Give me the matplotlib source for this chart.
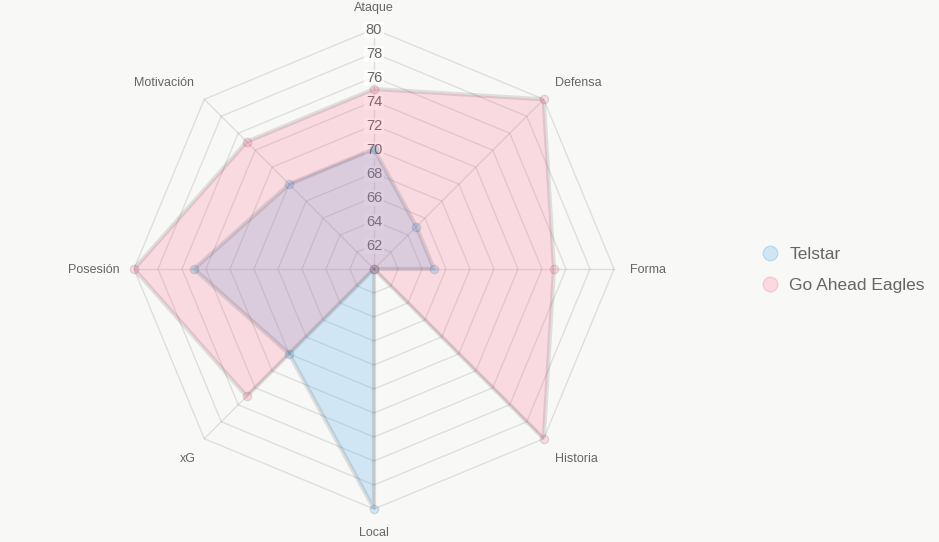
import numpy as np
import matplotlib
matplotlib.use("Agg")
import matplotlib.pyplot as plt
from matplotlib.lines import Line2D

categories = ["Ataque", "Defensa", "Forma", "Historia", "Local", "xG", "Posesión", "Motivación"]
telstar = [70, 65, 65, 60, 80, 70, 75, 70]
eagles = [75, 80, 75, 80, 60, 75, 80, 75]
series_names = ["Telstar", "Go Ahead Eagles"]
tick_values = [62, 64, 66, 68, 70, 72, 74, 76, 78, 80]
r_min, r_max = 60, 80

BG = "#f8f8f7"
TXT = "#666666"
GRID = (0, 0, 0, 0.1)
BLUE_FILL = (54/255, 162/255, 235/255, 0.2)
PINK_FILL = (255/255, 99/255, 132/255, 0.2)
BORDER = (0, 0, 0, 0.1)

plt.rcParams['font.family'] = ['Liberation Sans', 'DejaVu Sans']

W, H = 939, 542
fig = plt.figure(figsize=(W/100, H/100), dpi=100, facecolor=BG)
cx, cy, R = 374, 269, 240
ax = fig.add_axes([(cx-R)/W, (H-cy-R)/H, 2*R/W, 2*R/H], projection='polar')
ax.set_theta_offset(np.pi/2)
ax.set_theta_direction(-1)
ax.set_ylim(r_min, r_max)
ax.axis('off')

n = len(categories)
theta = np.arange(n) * 2*np.pi/n
theta_c = np.append(theta, theta[0])

# grid polygons
for v in tick_values:
    ax.plot(theta_c, [v]*(n+1), color=GRID, lw=1, zorder=1, clip_on=False)
# angle lines
for t in theta:
    ax.plot([t, t], [r_min, r_max], color=GRID, lw=1, zorder=1, clip_on=False)

# tick labels
for v in tick_values:
    ax.annotate(str(v), xy=(0, v), xytext=(0, -1), textcoords='offset pixels',
                ha='center', va='center', fontsize=10.5, color=TXT, zorder=1.5,
                bbox=dict(facecolor=(1, 1, 1, 0.75), edgecolor='none', pad=1.0))

# datasets
for vals, fill in [(telstar, BLUE_FILL), (eagles, PINK_FILL)]:
    v = np.array(vals + [vals[0]], dtype=float)
    ax.fill(theta_c, v, color=fill, zorder=2, lw=0)
    ax.plot(theta_c, v, color=BORDER, lw=3, zorder=3, solid_joinstyle='miter')
    ax.scatter(theta, vals, s=36, facecolor=fill, edgecolor=BORDER, linewidth=1, zorder=4, clip_on=False)

# point labels
offsets = {
    "Ataque": (0, 21, 'center', 'center'),
    "Defensa": (11, 16, 'left', 'center'),
    "Forma": (16, -1, 'left', 'center'),
    "Historia": (11, -20, 'left', 'center'),
    "Local": (0, -24, 'center', 'center'),
    "xG": (-9, -20, 'right', 'center'),
    "Posesión": (-14, -1, 'right', 'center'),
    "Motivación": (-10, 16, 'right', 'center'),
}
for t, c in zip(theta, categories):
    dx, dy, ha, va = offsets[c]
    ax.annotate(c, xy=(t, r_max), xytext=(dx, dy), textcoords='offset pixels',
                ha=ha, va=va, fontsize=9, color=TXT, annotation_clip=False)

handles = [Line2D([], [], marker='o', ls='none', markersize=10.5, markerfacecolor=BLUE_FILL,
                  markeredgecolor=(54/255, 162/255, 235/255, 0.25), markeredgewidth=1),
           Line2D([], [], marker='o', ls='none', markersize=10.5, markerfacecolor=PINK_FILL,
                  markeredgecolor=(255/255, 99/255, 132/255, 0.25), markeredgewidth=1)]
leg = fig.legend(handles, series_names, loc='center left', bbox_to_anchor=(761/W, 1-270/H),
                 frameon=False, fontsize=12.5, labelcolor=TXT, handlelength=1.0,
                 handletextpad=0.62, labelspacing=0.92, borderaxespad=0, borderpad=0)

fig.savefig("out.png", dpi=100, facecolor=BG)
